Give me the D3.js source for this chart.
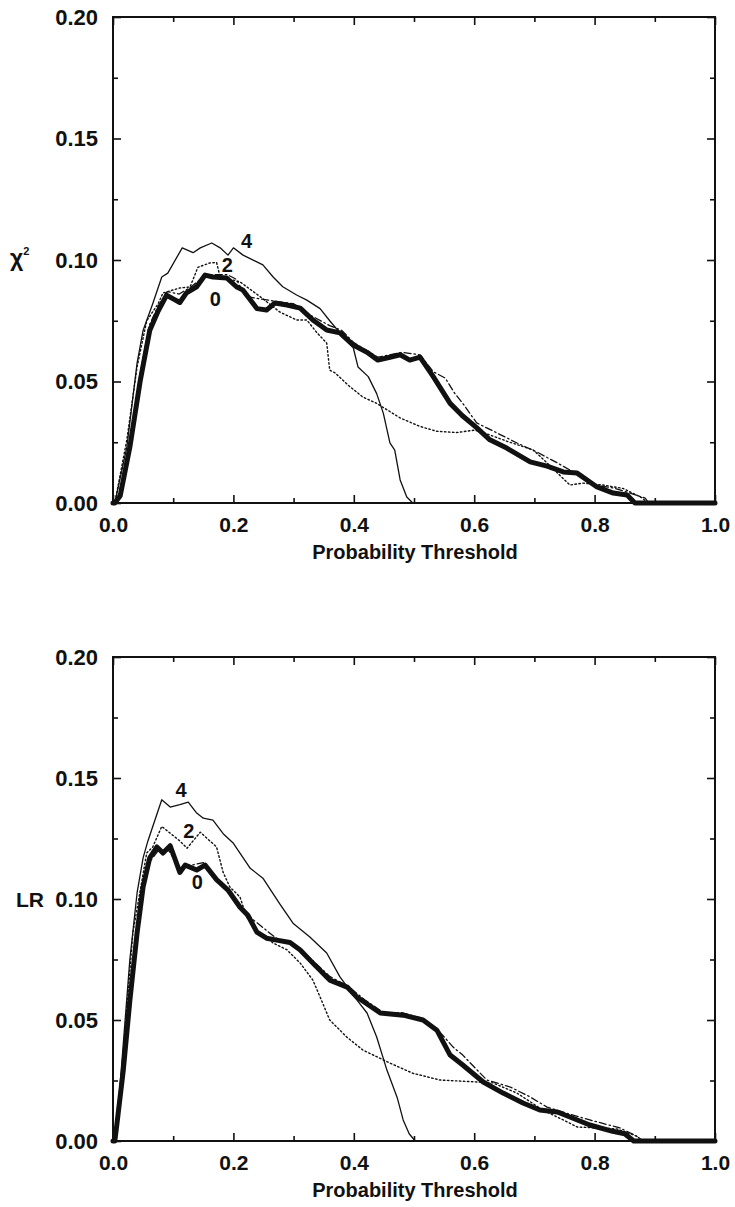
<!DOCTYPE html>
<html>
<head>
<meta charset="utf-8">
<script src="https://cdn.jsdelivr.net/npm/d3@7"></script>
<style>
  body { margin: 0; background: #fff; }
  svg text { font-family: "Liberation Sans", Arial, sans-serif; font-weight: bold; fill: #111; }
</style>
</head>
<body>
<svg id="chart" width="735" height="1207"></svg>
<script>
// ---- data: [probability threshold, statistic] ----
const chi0 = [[0,0],[0.003,0],[0.012,0.003],[0.028,0.023],[0.045,0.05],[0.061,0.071],[0.075,0.079],[0.089,0.0855],[0.1,0.084],[0.111,0.0825],[0.122,0.0865],[0.139,0.089],[0.153,0.0938],[0.166,0.093],[0.189,0.0926],[0.205,0.089],[0.216,0.0876],[0.239,0.080],[0.255,0.0794],[0.269,0.0823],[0.289,0.0815],[0.311,0.0802],[0.332,0.0753],[0.355,0.0712],[0.377,0.070],[0.399,0.065],[0.422,0.062],[0.44,0.0588],[0.46,0.060],[0.477,0.061],[0.493,0.0588],[0.51,0.060],[0.532,0.052],[0.56,0.041],[0.58,0.036],[0.604,0.031],[0.626,0.026],[0.654,0.0226],[0.693,0.0169],[0.721,0.0152],[0.748,0.0128],[0.771,0.0123],[0.804,0.0066],[0.831,0.0041],[0.854,0.0033],[0.867,0],[1.0,0]];
const chi1 = [[0,0],[0.003,0],[0.01,0.004],[0.03,0.027],[0.045,0.053],[0.06,0.073],[0.075,0.081],[0.09,0.087],[0.11,0.086],[0.13,0.089],[0.15,0.093],[0.17,0.094],[0.19,0.094],[0.205,0.092],[0.22,0.085],[0.245,0.084],[0.27,0.083],[0.3,0.082],[0.33,0.077],[0.36,0.073],[0.38,0.071],[0.4,0.066],[0.42,0.063],[0.44,0.06],[0.48,0.062],[0.51,0.061],[0.532,0.054],[0.552,0.0514],[0.568,0.045],[0.581,0.041],[0.604,0.033],[0.638,0.0288],[0.671,0.0247],[0.704,0.021],[0.738,0.0165],[0.759,0.0136],[0.797,0.0074],[0.831,0.0062],[0.859,0.0041],[0.884,0.002],[0.89,0],[1.0,0]];
const chi2 = [[0,0],[0.003,0],[0.023,0.026],[0.04,0.056],[0.056,0.075],[0.075,0.082],[0.083,0.0864],[0.111,0.0885],[0.128,0.0889],[0.141,0.097],[0.161,0.0988],[0.172,0.099],[0.178,0.093],[0.211,0.091],[0.244,0.085],[0.277,0.0786],[0.305,0.0753],[0.322,0.0753],[0.339,0.070],[0.355,0.0658],[0.36,0.0547],[0.369,0.0535],[0.39,0.0486],[0.415,0.0436],[0.438,0.041],[0.477,0.035],[0.51,0.0315],[0.538,0.0295],[0.571,0.029],[0.601,0.030],[0.626,0.028],[0.659,0.025],[0.698,0.0218],[0.721,0.0165],[0.759,0.0074],[0.781,0.0082],[0.814,0.0074],[0.847,0.006],[0.88,0.002],[0.887,0],[1.0,0]];
const chi4 = [[0,0],[0.003,0],[0.023,0.023],[0.04,0.0576],[0.05,0.071],[0.066,0.082],[0.081,0.093],[0.091,0.0946],[0.115,0.105],[0.133,0.103],[0.145,0.105],[0.164,0.107],[0.178,0.105],[0.191,0.102],[0.2,0.105],[0.216,0.102],[0.249,0.098],[0.266,0.093],[0.282,0.089],[0.305,0.0856],[0.322,0.0835],[0.344,0.080],[0.36,0.075],[0.377,0.070],[0.399,0.064],[0.407,0.056],[0.424,0.052],[0.438,0.045],[0.449,0.037],[0.46,0.0247],[0.468,0.0218],[0.477,0.0095],[0.488,0.0025],[0.498,0],[1.0,0]];

const lr0 = [[0,0],[0.003,0],[0.006,0.006],[0.017,0.029],[0.028,0.058],[0.04,0.086],[0.05,0.105],[0.061,0.117],[0.073,0.1215],[0.083,0.119],[0.095,0.122],[0.111,0.111],[0.12,0.114],[0.139,0.112],[0.153,0.114],[0.172,0.108],[0.191,0.1037],[0.211,0.0966],[0.224,0.0933],[0.239,0.0863],[0.255,0.0838],[0.272,0.083],[0.294,0.082],[0.311,0.0789],[0.332,0.0735],[0.36,0.0665],[0.389,0.0636],[0.405,0.0595],[0.444,0.0529],[0.482,0.052],[0.515,0.050],[0.538,0.0458],[0.56,0.0355],[0.581,0.0314],[0.615,0.0244],[0.648,0.0198],[0.681,0.0157],[0.709,0.0128],[0.738,0.012],[0.759,0.0099],[0.792,0.0066],[0.83,0.004],[0.85,0.003],[0.865,0],[1.0,0]];
const lr1 = [[0,0],[0.003,0],[0.015,0.03],[0.03,0.065],[0.045,0.097],[0.06,0.115],[0.075,0.12],[0.09,0.121],[0.11,0.113],[0.13,0.114],[0.15,0.115],[0.17,0.109],[0.19,0.104],[0.21,0.098],[0.23,0.092],[0.25,0.088],[0.27,0.084],[0.3,0.081],[0.33,0.075],[0.36,0.068],[0.39,0.064],[0.42,0.058],[0.45,0.053],[0.48,0.053],[0.51,0.051],[0.543,0.045],[0.565,0.0388],[0.581,0.0355],[0.621,0.0252],[0.66,0.0223],[0.693,0.0182],[0.721,0.014],[0.76,0.011],[0.792,0.0087],[0.842,0.0054],[0.87,0.002],[0.88,0],[1.0,0]];
const lr2 = [[0,0],[0.003,0],[0.015,0.03],[0.033,0.086],[0.056,0.119],[0.066,0.1215],[0.081,0.13],[0.111,0.124],[0.123,0.121],[0.145,0.1276],[0.172,0.1215],[0.183,0.111],[0.194,0.105],[0.211,0.1008],[0.222,0.0925],[0.239,0.087],[0.266,0.0818],[0.289,0.079],[0.311,0.0735],[0.332,0.0665],[0.344,0.0595],[0.36,0.05],[0.389,0.0428],[0.415,0.0376],[0.46,0.0322],[0.498,0.028],[0.543,0.0252],[0.604,0.0244],[0.631,0.024],[0.671,0.0198],[0.714,0.0128],[0.748,0.0087],[0.771,0.0058],[0.804,0.0054],[0.837,0.005],[0.87,0.002],[0.88,0],[1.0,0]];
const lr4 = [[0,0],[0.003,0],[0.012,0.024],[0.028,0.075],[0.04,0.1025],[0.05,0.117],[0.058,0.124],[0.081,0.141],[0.095,0.138],[0.111,0.139],[0.125,0.14],[0.139,0.1355],[0.15,0.1334],[0.166,0.1326],[0.183,0.127],[0.2,0.123],[0.228,0.1127],[0.249,0.1086],[0.277,0.098],[0.299,0.090],[0.327,0.0843],[0.355,0.0777],[0.377,0.0678],[0.405,0.0583],[0.422,0.0529],[0.438,0.043],[0.455,0.0293],[0.472,0.018],[0.482,0.0087],[0.492,0.003],[0.502,0],[1.0,0]];

const xMajor = [0, 0.2, 0.4, 0.6, 0.8, 1.0];
const xMinor = [0.1, 0.3, 0.5, 0.7, 0.9];
const yMajor = [0, 0.05, 0.10, 0.15, 0.20];
const yMinor = [0.025, 0.075, 0.125, 0.175];

// curve labels: [series name, threshold, value]
const chiLabels = [["4", 0.222, 0.108], ["2", 0.19, 0.098], ["0", 0.17, 0.084]];
const lrLabels = [["4", 0.113, 0.145], ["2", 0.126, 0.128], ["0", 0.14, 0.107]];

// ---- layout ----
const left = 113, right = 715;
const panels = [
    {top: 17, bottom: 503, ylabel: "chi", series: {s4: chi4, s2: chi2, s1: chi1, s0: chi0}, labels: chiLabels},
    {top: 657, bottom: 1141, ylabel: "LR", series: {s4: lr4, s2: lr2, s1: lr1, s0: lr0}, labels: lrLabels}
];

const styles = {
    s4: {width: 1.3, dash: null},
    s2: {width: 1.4, dash: "1.5,2.5"},
    s1: {width: 1.3, dash: "7,3,1.5,3"},
    s0: {width: 5, dash: null}
};

const svg = d3.select("#chart");

panels.forEach(panel => {
    const x = d3.scaleLinear().domain([0, 1]).range([left, right]);
    const y = d3.scaleLinear().domain([0, 0.2]).range([panel.bottom, panel.top]);
    const g = svg.append("g");

    const line = d3.line().x(d => x(d[0])).y(d => y(d[1]));

    // curves
    ["s4", "s2", "s1", "s0"].forEach(k => {
        g.append("path")
            .datum(panel.series[k])
            .attr("d", line)
            .attr("fill", "none")
            .attr("stroke", "#111")
            .attr("stroke-width", styles[k].width)
            .attr("stroke-dasharray", styles[k].dash)
            .attr("stroke-linejoin", "round")
            .attr("stroke-linecap", "round");
    });

    // frame
    g.append("rect")
        .attr("x", left).attr("y", panel.top)
        .attr("width", right - left).attr("height", panel.bottom - panel.top)
        .attr("fill", "none").attr("stroke", "#111").attr("stroke-width", 2);

    // axes (ticks inward)
    const addAxis = (axis, tf) => {
        const a = g.append("g").attr("transform", tf).call(axis);
        a.select(".domain").remove();
        a.selectAll("line").attr("stroke", "#111").attr("stroke-width", 1.6);
        return a;
    };
    const bx = addAxis(d3.axisBottom(x).tickValues(xMajor).tickSize(-8).tickPadding(14)
        .tickFormat(d3.format(".1f")), `translate(0,${panel.bottom})`);
    bx.selectAll("text").style("font-size", "21px");
    addAxis(d3.axisBottom(x).tickValues(xMinor).tickSize(-5).tickFormat(""), `translate(0,${panel.bottom})`);
    addAxis(d3.axisTop(x).tickValues(xMajor).tickSize(-8).tickFormat(""), `translate(0,${panel.top})`);
    addAxis(d3.axisTop(x).tickValues(xMinor).tickSize(-5).tickFormat(""), `translate(0,${panel.top})`);

    const ly = addAxis(d3.axisLeft(y).tickValues(yMajor).tickSize(-8).tickPadding(15)
        .tickFormat(d3.format(".2f")), `translate(${left},0)`);
    ly.selectAll("text").style("font-size", "22px");
    addAxis(d3.axisLeft(y).tickValues(yMinor).tickSize(-5).tickFormat(""), `translate(${left},0)`);
    addAxis(d3.axisRight(y).tickValues(yMajor).tickSize(-8).tickFormat(""), `translate(${right},0)`);
    addAxis(d3.axisRight(y).tickValues(yMinor).tickSize(-5).tickFormat(""), `translate(${right},0)`);

    // x title
    g.append("text")
        .attr("x", (left + right) / 2 + 1)
        .attr("y", panel.bottom + 56)
        .attr("text-anchor", "middle")
        .style("font-size", "20px")
        .text("Probability Threshold");

    // y title
    if (panel.ylabel === "chi") {
        const t = g.append("text")
            .attr("x", 10)
            .attr("y", y(0.1) + 6)
            .style("font-size", "23px");
        t.append("tspan").text("χ");
        t.append("tspan").attr("dy", -11).style("font-size", "11px").text("2");
    } else {
        g.append("text")
            .attr("x", 30)
            .attr("y", y(0.1) + 8)
            .attr("text-anchor", "middle")
            .style("font-size", "21px")
            .text("LR");
    }

    // curve labels
    g.selectAll(".clabel")
        .data(panel.labels)
        .enter().append("text")
        .attr("class", "clabel")
        .attr("x", d => x(d[1]))
        .attr("y", d => y(d[2]))
        .attr("text-anchor", "middle")
        .attr("dy", "0.35em")
        .style("font-size", "20px")
        .text(d => d[0]);
});
</script>
</body>
</html>
